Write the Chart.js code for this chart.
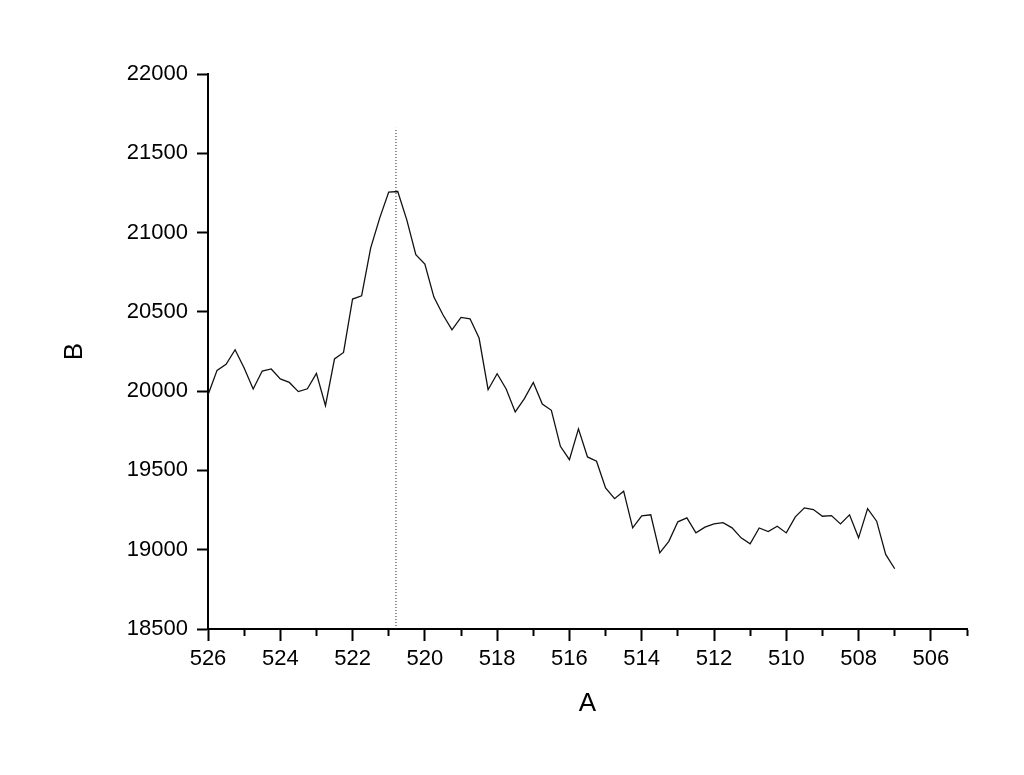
<!DOCTYPE html>
<html>
<head>
<meta charset="utf-8">
<script src="https://cdn.jsdelivr.net/npm/chart.js@4"></script>
<style>
  html, body { margin: 0; padding: 0; background: #fff; }
  #wrap { width: 1024px; height: 775px; }
</style>
</head>
<body>
<div id="wrap"><canvas id="specChart" width="1024" height="775"></canvas></div>
<script>
// binding energy (A) and counts (B)
const energy = [526, 525.75, 525.5, 525.25, 525, 524.75, 524.5, 524.25, 524, 523.75, 523.5, 523.25,
  523, 522.75, 522.5, 522.25, 522, 521.75, 521.5, 521.25, 521, 520.75, 520.5, 520.25,
  520, 519.75, 519.5, 519.25, 519, 518.75, 518.5, 518.25, 518, 517.75, 517.5, 517.25,
  517, 516.75, 516.5, 516.25, 516, 515.75, 515.5, 515.25, 515, 514.75, 514.5, 514.25,
  514, 513.75, 513.5, 513.25, 513, 512.75, 512.5, 512.25, 512, 511.75, 511.5, 511.25,
  511, 510.75, 510.5, 510.25, 510, 509.75, 509.5, 509.25, 509, 508.75, 508.5, 508.25,
  508, 507.75, 507.5, 507.25, 507];
const counts = [19976, 20131, 20169, 20261, 20146, 20014, 20127, 20140, 20077, 20055, 19997, 20015,
  20112, 19908, 20203, 20244, 20581, 20601, 20902, 21091, 21255, 21259, 21080, 20860,
  20802, 20593, 20482, 20387, 20465, 20456, 20335, 20009, 20110, 20014, 19869, 19951,
  20055, 19919, 19879, 19652, 19568, 19762, 19585, 19558, 19390, 19322, 19369, 19138,
  19213, 19220, 18980, 19053, 19176, 19201, 19106, 19142, 19163, 19171, 19138, 19075,
  19037, 19137, 19114, 19148, 19106, 19207, 19264, 19253, 19211, 19215, 19163, 19220,
  19075, 19259, 19180, 18970, 18880];

// dotted marker at the peak
const markerX = [520.8, 520.8];
const markerY = [18500, 21660];

const xRange = [505, 526];
const yRange = [18500, 22000];

const font = "'Liberation Sans', Arial, sans-serif";

const ctx = document.getElementById("specChart");
new Chart(ctx, {
  type: "line",
  data: {
    datasets: [
      {
        data: energy.map((x, i) => ({ x: x, y: counts[i] })),
        borderColor: "#111",
        borderWidth: 1.3,
        pointRadius: 0,
        tension: 0,
        fill: false,
      },
      {
        data: markerX.map((x, i) => ({ x: x, y: markerY[i] })),
        borderColor: "#222",
        borderWidth: 1,
        borderDash: [1, 2],
        pointRadius: 0,
        fill: false,
      },
    ],
  },
  options: {
    responsive: false,
    animation: false,
    devicePixelRatio: 1,
    layout: {
      padding: { top: 74, right: 57, bottom: 0, left: 0 },
    },
    plugins: {
      legend: { display: false },
      tooltip: { enabled: false },
    },
    scales: {
      x: {
        type: "linear",
        reverse: true,
        min: xRange[0],
        max: xRange[1],
        afterFit: (scale) => { scale.height = 146; },
        border: { display: true, color: "#000", width: 2 },
        grid: {
          display: true,
          drawOnChartArea: false,
          drawTicks: true,
          tickLength: 12,
          tickWidth: 2,
          tickColor: "#000",
          // odd values get the short minor tick
          tickBorderDash: (c) => (c.tick && Math.abs(c.tick.value % 2) === 1 ? [6, 100] : []),
        },
        ticks: {
          stepSize: 1,
          autoSkip: false,
          maxRotation: 0,
          padding: 5,
          color: "#000",
          font: { family: font, size: 22 },
          callback: (v) => (v % 2 === 0 ? String(v) : ""),
        },
        title: {
          display: true,
          text: "A",
          color: "#000",
          font: { family: font, size: 26 },
          padding: { top: 4, bottom: 56 },
        },
      },
      y: {
        min: yRange[0],
        max: yRange[1],
        afterFit: (scale) => { scale.width = 208; },
        border: { display: true, color: "#000", width: 2 },
        grid: {
          display: true,
          drawOnChartArea: false,
          drawTicks: true,
          tickLength: 11,
          tickWidth: 2,
          tickColor: "#000",
        },
        ticks: {
          stepSize: 500,
          padding: 9,
          color: "#000",
          font: { family: font, size: 22 },
          callback: (v) => String(v),
        },
        title: {
          display: true,
          text: "B",
          color: "#000",
          font: { family: font, size: 26 },
          padding: { top: 59, bottom: 4 },
        },
      },
    },
  },
});
</script>
</body>
</html>
